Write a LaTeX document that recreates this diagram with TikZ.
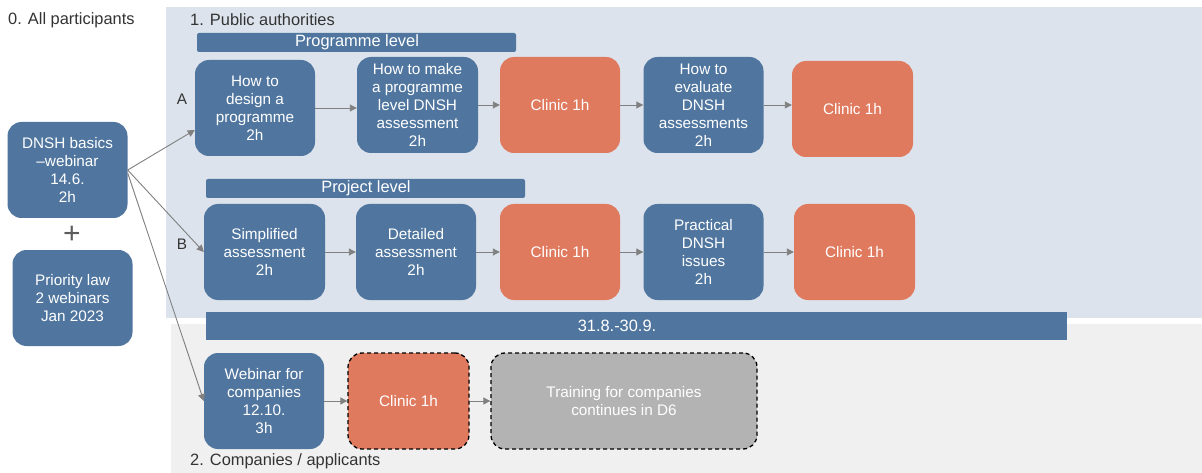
\documentclass[tikz,border=0pt]{standalone}
\usepackage{fontspec}
\setmainfont{Liberation Sans}
\usetikzlibrary{arrows.meta}
\definecolor{myblue}{HTML}{50769F}
\definecolor{myorange}{HTML}{E07A5F}
\definecolor{panelblue}{HTML}{DCE3EC}
\definecolor{panelgray}{HTML}{F0F0F0}
\definecolor{boxgray}{HTML}{B3B3B3}
\definecolor{arrowgray}{HTML}{808080}
\definecolor{txtdark}{HTML}{333333}
\begin{document}
\begin{tikzpicture}[x=1pt,y=-1pt,
  box/.style={rounded corners=14pt, fill=myblue, text=white, align=center,
    inner sep=0pt, minimum width=120pt, minimum height=96pt,
    font=\fontsize{15.3}{18}\selectfont},
  clinic/.style={box, fill=myorange},
  dashedbox/.style={draw=black, dashed, dash pattern=on 4pt off 3pt, line width=1.3pt},
  bartext/.style={text=white, inner sep=0pt, font=\fontsize{16.4}{18}\selectfont},
  lbl/.style={text=txtdark, inner sep=0pt, font=\fontsize{16.4}{18}\selectfont},
  arr/.style={draw=arrowgray, line width=0.9pt, -{Triangle[width=7pt,length=7pt]}}
]
\useasboundingbox (0,0) rectangle (1202,473);
\fill[white] (0,0) rectangle (1202,473);
% panels
\fill[panelblue] (166,7) rectangle (1202,318);
\fill[panelgray] (171,324) rectangle (1202,473);
% labels
\node[lbl, anchor=west] (l0) at (8,20) {0. All participants};
\node[lbl, anchor=west] (l1) at (190,20) {1. Public authorities};
\node[lbl, anchor=west] (l2) at (190,461) {2. Companies / applicants};
\node[lbl, font=\fontsize{15.3}{18}\selectfont] (la) at (182,99) {A};
\node[lbl, font=\fontsize{15.3}{18}\selectfont] (lb) at (182,244) {B};
% bars
\path[fill=myblue, rounded corners=2pt] (197,33) rectangle (516,52);
\node[bartext] (pl) at (357,42.5) {Programme level};
\path[fill=myblue, rounded corners=2pt] (206,179) rectangle (525,198);
\node[bartext] (prl) at (366,188.5) {Project level};
\fill[myblue] (206,312) rectangle (1067,340);
\node[bartext] (dates) at (617,326) {31.8.-30.9.};
% left boxes
\node[box] (basics) at (67.5,170) {DNSH basics\\--webinar\\14.6.\\2h};
\node[text=txtdark!80, font=\fontsize{30}{30}\selectfont, inner sep=0pt] (plus) at (72,235) {+};
\node[box] (prio) at (72.5,298) {Priority law\\2 webinars\\Jan 2023};
% row A
\node[box] (design) at (255,108) {How to\\design a\\programme\\2h};
\node[box, minimum width=121pt] (make) at (417.5,105) {How to make\\a programme\\level DNSH\\assessment\\2h};
\node[clinic] (ca1) at (560,105) {Clinic 1h};
\node[box] (eval) at (703.5,105) {How to\\evaluate\\DNSH\\assessments\\2h};
\node[clinic, minimum width=121pt] (ca2) at (852.5,109) {Clinic 1h};
% row B
\node[box, minimum width=121pt] (simp) at (264.5,252) {Simplified\\assessment\\2h};
\node[box] (det) at (416,252) {Detailed\\assessment\\2h};
\node[clinic] (cb1) at (560,252) {Clinic 1h};
\node[box] (prac) at (703.5,252) {Practical\\DNSH\\issues\\2h};
\node[clinic, minimum width=121pt] (cb2) at (854.5,252) {Clinic 1h};
% companies row
\node[box] (web) at (264,401) {Webinar for\\companies\\12.10.\\3h};
\node[clinic, minimum width=121pt, dashedbox] (cc) at (408.5,401) {Clinic 1h};
\node[box, fill=boxgray, minimum width=266pt, dashedbox] (train) at (624,401) {Training for companies\\continues in D6};
% arrows
\draw[arr] (basics.east) -- ([yshift=-22pt]design.west);
\draw[arr] (basics.east) -- (simp.west);
\draw[arr] ([yshift=-3pt]basics.east) -- (web.west);
\draw[arr] (design.east) -- (design.east -| make.west);
\draw[arr] (make.east) -- (make.east -| ca1.west);
\draw[arr] (ca1.east) -- (ca1.east -| eval.west);
\draw[arr] (eval.east) -- (eval.east -| ca2.west);
\draw[arr] (simp.east) -- (simp.east -| det.west);
\draw[arr] (det.east) -- (det.east -| cb1.west);
\draw[arr] (cb1.east) -- (cb1.east -| prac.west);
\draw[arr] (prac.east) -- (prac.east -| cb2.west);
\draw[arr] (web.east) -- (web.east -| cc.west);
\draw[arr] (cc.east) -- (cc.east -| train.west);
\end{tikzpicture}
\end{document}
